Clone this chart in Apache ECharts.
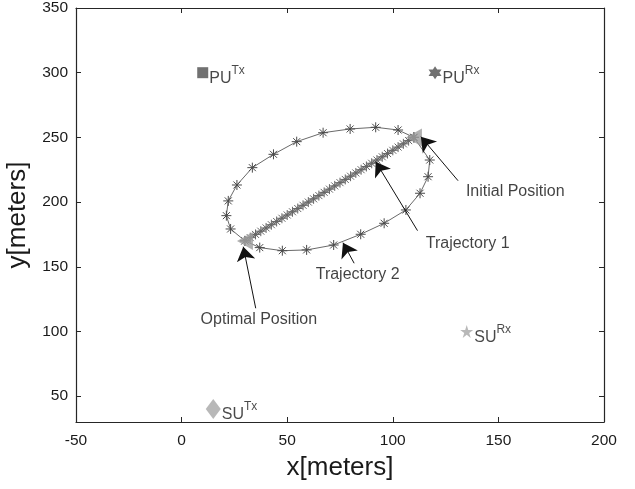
<!DOCTYPE html>
<html>
<head>
<meta charset="utf-8">
<script src="https://cdn.jsdelivr.net/npm/echarts@6/dist/echarts.min.js"></script>
<style>
  html, body { margin: 0; padding: 0; background: #fff; }
  #chart { width: 635px; height: 489px; }
</style>
</head>
<body>
<div id="chart"></div>
<script>
// tick labels
var xTicks = [-50, 0, 50, 100, 150, 200]
var yTicks = [50, 100, 150, 200, 250, 300, 350]

// trajectory 1: straight path from initial to optimal position
var traj1X = [30, 32.5, 35, 37.5, 40, 42.5, 45, 47.5, 50, 52.5, 55, 57.5, 60, 62.5, 65, 67.5, 70,
  72.5, 75, 77.5, 80, 82.5, 85, 87.5, 90, 92.5, 95, 97.5, 100, 102.5, 105, 107.5, 110]
var traj1Y = [170, 172.5, 175, 177.5, 180, 182.5, 185, 187.5, 190, 192.5, 195, 197.5, 200, 202.5, 205, 207.5, 210,
  212.5, 215, 217.5, 220, 222.5, 225, 227.5, 230, 232.5, 235, 237.5, 240, 242.5, 245, 247.5, 250]

// trajectory 2: elliptical path
var traj2X = [110, 117.5, 116.7, 112.9, 106.2, 95.9, 84.8, 72.0, 59.2, 47.7, 37.0, 30,
  23.2, 21.2, 22.1, 26.2, 33.5, 43.5, 54.5, 67.0, 79.8, 91.9, 102.5, 110]
var traj2Y = [250, 232.5, 219.6, 206.8, 193.9, 183.6, 175.1, 166.8, 163.0, 162.4, 164.8, 170,
  179.2, 189.5, 200.9, 213.2, 226.6, 236.9, 246.7, 253.6, 256.5, 257.8, 255.7, 250]

// users
var puTx = [10, 300]
var puRx = [120, 300]
var suTx = [15, 40]
var suRx = [135, 100]
var initialPos = [110, 250]
var optimalPos = [30, 170]

// annotations: text, text anchor, arrow tail, arrow tip
var annoText = ['Initial Position', 'Trajectory 1', 'Trajectory 2', 'Optimal Position']
var annoAt = [[134.6, 208.0], [115.6, 168.2], [63.5, 143.7], [9.0, 108.9]]
var annoFrom = [[130.9, 216.5], [111.7, 177.9], [81.7, 152.7], [35.1, 117.9]]
var annoTo = [[113.3, 250.5], [91.9, 231.2], [76.4, 168.6], [29.2, 165.5]]

var FONT = 'Liberation Sans'
var TXT = '#1a1a1a'
var asterisk = 'path://M5,0L5,10M0,5L10,5M1.5,1.5L8.5,8.5M8.5,1.5L1.5,8.5'
var hexagram = 'path://M50,0L93.3,75L6.7,75ZM50,100L6.7,25L93.3,25Z'
var star5 = 'path://M50,0L61.8,36.2L100,36.2L69.1,58.6L80.9,95.1L50,72.4L19.1,95.1L30.9,58.6L0,36.2L38.2,36.2Z'

function zip(xs, ys) {
  return xs.map(function (x, i) { return [x, ys[i]] })
}

function userLabel(main, sup) {
  return {
    show: true,
    position: 'right',
    distance: 1,
    offset: [0, 3],
    color: TXT,
    formatter: '{a|' + main + '}{b|' + sup + '}',
    rich: {
      a: { fontFamily: FONT, fontSize: 16, color: TXT, lineHeight: 22, verticalAlign: 'bottom' },
      b: { fontFamily: FONT, fontSize: 12, color: TXT, lineHeight: 11, verticalAlign: 'top' }
    }
  }
}

function userSeries(pos, symbol, size, color, main, sup) {
  return {
    type: 'scatter',
    data: [pos],
    symbol: symbol,
    symbolSize: size,
    itemStyle: { color: color },
    label: userLabel(main, sup),
    z: 4
  }
}

var chart = echarts.init(document.getElementById('chart'))

var axisCommon = {
  axisLine: { show: true, onZero: false, lineStyle: { color: '#262626', width: 1.2 } },
  axisTick: { show: true, inside: true, length: 5, lineStyle: { color: '#262626' } },
  splitLine: { show: false }
}

var option = {
  animation: false,
  backgroundColor: '#fff',
  grid: { left: 76, right: 31, top: 8, bottom: 67, containLabel: false, outerBoundsMode: 'none' },
  xAxis: [
    Object.assign({
      type: 'value', min: xTicks[0], max: xTicks[xTicks.length - 1], interval: 50,
      name: 'x[meters]', nameLocation: 'middle', nameGap: 33,
      nameTextStyle: { fontFamily: FONT, fontSize: 26, color: TXT },
      axisLabel: { fontFamily: FONT, fontSize: 15.5, color: TXT, margin: 11 }
    }, axisCommon),
    Object.assign({
      type: 'value', position: 'top', min: xTicks[0], max: xTicks[xTicks.length - 1], interval: 50,
      axisLabel: { show: false }
    }, axisCommon)
  ],
  yAxis: [
    Object.assign({
      type: 'value', min: 30, max: 350,
      name: 'y[meters]', nameLocation: 'middle', nameGap: 41,
      nameTextStyle: { fontFamily: FONT, fontSize: 26, color: TXT },
      axisLabel: { fontFamily: FONT, fontSize: 15.5, color: TXT, margin: 8, customValues: yTicks }
    }, axisCommon, {
      axisTick: { show: true, inside: true, length: 5, lineStyle: { color: '#262626' }, customValues: yTicks }
    }),
    Object.assign({
      type: 'value', position: 'right', min: 30, max: 350,
      axisLabel: { show: false, customValues: yTicks }
    }, axisCommon, {
      axisTick: { show: true, inside: true, length: 5, lineStyle: { color: '#262626' }, customValues: yTicks }
    })
  ],
  series: [
    {
      name: 'Trajectory 2',
      type: 'line',
      data: zip(traj2X, traj2Y),
      symbol: asterisk,
      symbolSize: 10,
      showAllSymbol: true,
      lineStyle: { color: '#6a6a6a', width: 1 },
      itemStyle: { color: 'rgba(0,0,0,0)', borderColor: '#4a4a4a', borderWidth: 1 },
      z: 2
    },
    {
      name: 'Trajectory 1',
      type: 'line',
      data: zip(traj1X, traj1Y),
      symbol: asterisk,
      symbolSize: 10,
      showAllSymbol: true,
      lineStyle: { color: '#a6a6a6', width: 3.5 },
      itemStyle: { color: 'rgba(0,0,0,0)', borderColor: '#666', borderWidth: 1 },
      z: 2
    },
    {
      type: 'scatter',
      data: [initialPos, optimalPos],
      symbol: 'triangle',
      symbolRotate: 90,
      symbolSize: [18, 16],
      itemStyle: { color: '#9e9e9e' },
      z: 3
    },
    userSeries(puTx, 'rect', 11, '#4d4d4d', 'PU', 'Tx'),
    userSeries(puRx, hexagram, 13, '#4d4d4d', 'PU', 'Rx'),
    userSeries(suTx, 'diamond', [15, 20], '#a6a6a6', 'SU', 'Tx'),
    userSeries(suRx, star5, 13, '#a6a6a6', 'SU', 'Rx'),
    {
      type: 'lines',
      coordinateSystem: 'cartesian2d',
      data: annoFrom.map(function (f, i) { return { coords: [f, annoTo[i]] } }),
      symbol: ['none', 'arrow'],
      symbolSize: [9, 14],
      lineStyle: { color: '#111', width: 1, opacity: 1 },
      z: 5
    },
    {
      type: 'scatter',
      data: annoAt.map(function (p, i) { return { value: p, name: annoText[i] } }),
      symbolSize: 0,
      label: {
        show: true,
        position: 'right',
        distance: 0,
        formatter: '{b}',
        fontFamily: FONT,
        fontSize: 16,
        color: '#111'
      },
      z: 5
    }
  ]
}

chart.setOption(option)
</script>
</body>
</html>
